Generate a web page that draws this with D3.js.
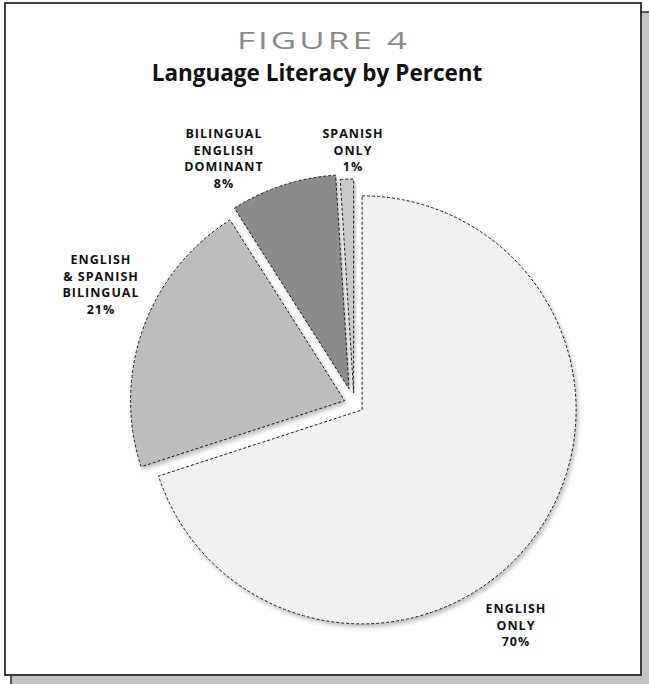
<!DOCTYPE html>
<html>
<head>
<meta charset="utf-8">
<script src="https://cdn.jsdelivr.net/npm/d3@7/dist/d3.min.js"></script>
<style>
  html, body { margin: 0; padding: 0; background: #fff; }
  svg { display: block; }
  text { font-family: "Open Sans", "DejaVu Sans", sans-serif; }
</style>
</head>
<body>
<svg id="chart" width="649" height="684"></svg>
<script>
// Language literacy shares, clockwise from 12 o'clock
const categories = ["English Only", "English & Spanish Bilingual", "Bilingual English Dominant", "Spanish Only"];
const values = [70, 21, 8, 1];
const labelLines = [
  ["ENGLISH", "ONLY"],
  ["ENGLISH", "& SPANISH", "BILINGUAL"],
  ["BILINGUAL", "ENGLISH", "DOMINANT"],
  ["SPANISH", "ONLY"]
];
const fills = ["#f1f1f1", "#bdbdbd", "#8b8b8b", "#c9c9c9"];

const W = 649, H = 684;
const svg = d3.select("#chart");

// Frame with offset drop shadow
svg.append("rect").attr("x", 11).attr("y", 12).attr("width", W).attr("height", H)
  .attr("fill", "#c3c3c3").attr("stroke", "#2a2a2a").attr("stroke-width", 1.5);
svg.append("rect").attr("x", 5).attr("y", 3).attr("width", 636).attr("height", 672)
  .attr("fill", "#fff").attr("stroke", "#2a2a2a").attr("stroke-width", 1.8);

// Titles
svg.append("text").attr("x", 237).attr("y", 49)
  .attr("font-size", 23).attr("fill", "#8a8a8a")
  .attr("letter-spacing", 2)
  .attr("textLength", 173).attr("lengthAdjust", "spacingAndGlyphs")
  .text("FIGURE 4");
svg.append("text").attr("x", 317).attr("y", 81).attr("text-anchor", "middle")
  .attr("font-size", 22.5).attr("font-weight", 700).attr("fill", "#111")
  .text("Language Literacy by Percent");

// Pie
const defs = svg.append("defs");
const f = defs.append("filter").attr("id", "shadow")
  .attr("x", "-20%").attr("y", "-20%").attr("width", "140%").attr("height", "140%");
f.append("feDropShadow").attr("dx", 2).attr("dy", 3).attr("stdDeviation", 2)
  .attr("flood-color", "#000").attr("flood-opacity", 0.25);

const center = [354, 404];
const radius = 214;
const explode = [10, 10, 16, 11];

const pie = d3.pie().sort(null).value(d => d)(values);
const arc = d3.arc().innerRadius(0).outerRadius(radius);

const g = svg.append("g").attr("transform", `translate(${center[0]},${center[1]})`);

g.selectAll("path.slice").data(pie).join("path")
  .attr("class", "slice")
  .attr("transform", (d, i) => {
    const a = (d.startAngle + d.endAngle) / 2;
    return `translate(${Math.sin(a) * explode[i]},${-Math.cos(a) * explode[i]})`;
  })
  .attr("d", arc)
  .attr("fill", (d, i) => fills[i])
  .attr("stroke", "#1e1e1e")
  .attr("stroke-width", 1)
  .attr("stroke-dasharray", "3,2")
  .attr("filter", "url(#shadow)");

// Labels, each centred on its anchor
const labelPos = [[516, 613], [101, 264], [224, 138], [353, 138]];
const lineGap = 16.5;
labelLines.forEach((lines, i) => {
  const t = svg.append("text")
    .attr("text-anchor", "middle")
    .attr("font-size", 12.5)
    .attr("font-weight", 700)
    .attr("letter-spacing", 1)
    .attr("fill", "#111");
  lines.concat([values[i] + "%"]).forEach((s, k) => {
    t.append("tspan").attr("x", labelPos[i][0]).attr("y", labelPos[i][1] + k * lineGap).text(s);
  });
});
</script>
</body>
</html>
